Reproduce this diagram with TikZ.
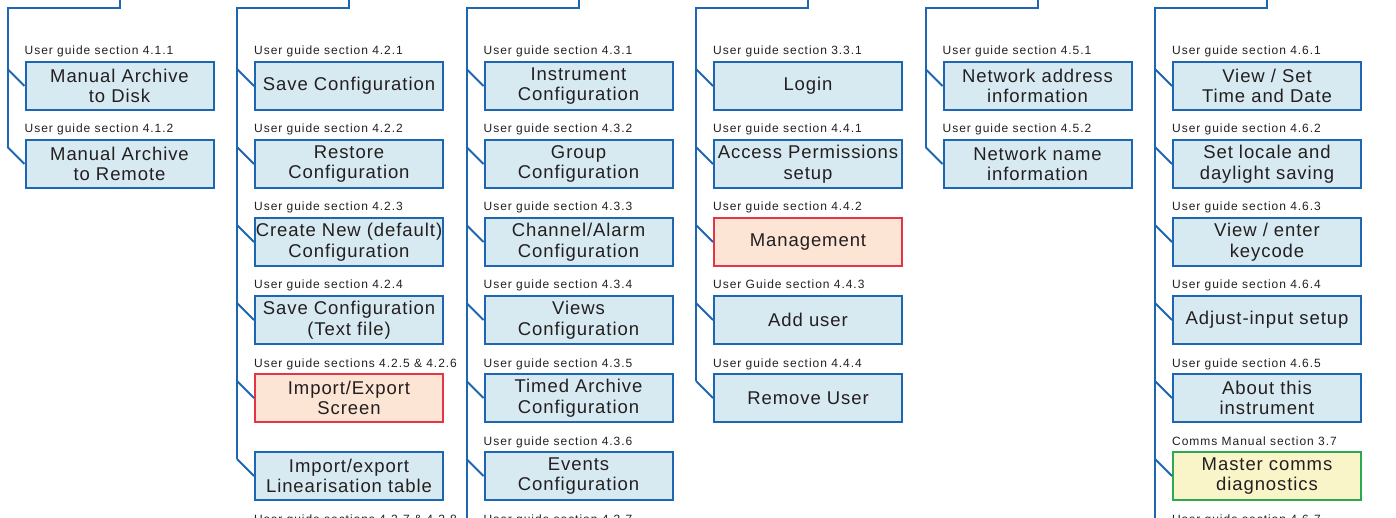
\documentclass[tikz,border=0pt]{standalone}
\usepackage{fontspec}
\setmainfont{Liberation Sans}[LetterSpace=8]
\newfontfamily\boxface{Liberation Sans}[LetterSpace=5]
\usetikzlibrary{calc}

\definecolor{lineblue}{RGB}{28,102,178}
\definecolor{boxblue}{RGB}{215,234,242}
\definecolor{edgered}{RGB}{228,52,70}
\definecolor{fillred}{RGB}{252,229,212}
\definecolor{edgegreen}{RGB}{44,170,80}
\definecolor{fillgreen}{RGB}{250,245,200}
\definecolor{ink}{RGB}{35,31,32}

\tikzset{
  wire/.style={draw=lineblue, line width=2pt},
  item/.style={draw=lineblue, fill=boxblue, line width=2pt,
    minimum width=188pt, minimum height=48pt, inner sep=0pt,
    align=center, text=ink, font=\boxface\fontsize{18.5}{20.5}\selectfont},
  warnitem/.style={item, draw=edgered, fill=fillred},
  commsitem/.style={item, draw=edgegreen, fill=fillgreen},
  lab/.style={inner sep=0pt, text=ink, font=\fontsize{12}{14}\selectfont},
}

% #1 name, #2 column, #3 row, #4 style, #5 reference line, #6 box text
\newcommand\menuitem[6]{%
  \node[#4, anchor=north west] (#1) at ({24.5+229.5*#2},{61+78*#3}) {#6};
  \node[lab, anchor=base west] (#1-lab) at ([yshift=6pt]#1.north west) {#5};
  \coordinate (#1-tap) at ([xshift=-17pt,yshift=17pt]#1.west);
  \draw[wire] (#1-tap) -- (#1.west);
}

\begin{document}
\begin{tikzpicture}[x=1pt, y=-1pt]
\useasboundingbox (0,0) rectangle (1396,518);

% Archive
\menuitem{m11}{0}{0}{item}{User guide section 4.1.1}{Manual Archive\\to Disk}
\menuitem{m12}{0}{1}{item}{User guide section 4.1.2}{Manual Archive\\to Remote}

% Configuration files
\menuitem{m21}{1}{0}{item}{User guide section 4.2.1}{Save Configuration}
\menuitem{m22}{1}{1}{item}{User guide section 4.2.2}{Restore\\Configuration}
\menuitem{m23}{1}{2}{item}{User guide section 4.2.3}{Create New (default)\\Configuration}
\menuitem{m24}{1}{3}{item}{User guide section 4.2.4}{Save Configuration\\(Text file)}
\menuitem{m25}{1}{4}{warnitem}{User guide sections 4.2.5 \& 4.2.6}{Import/Export\\Screen}
\menuitem{m26}{1}{5}{item}{}{Import/export\\Linearisation table}
\node[lab, anchor=base west] (m27-lab) at (254,523) {User guide sections 4.2.7 \& 4.2.8};

% Configuration
\menuitem{m31}{2}{0}{item}{User guide section 4.3.1}{Instrument\\Configuration}
\menuitem{m32}{2}{1}{item}{User guide section 4.3.2}{Group\\Configuration}
\menuitem{m33}{2}{2}{item}{User guide section 4.3.3}{Channel/Alarm\\Configuration}
\menuitem{m34}{2}{3}{item}{User guide section 4.3.4}{Views\\Configuration}
\menuitem{m35}{2}{4}{item}{User guide section 4.3.5}{Timed Archive\\Configuration}
\menuitem{m36}{2}{5}{item}{User guide section 4.3.6}{Events\\Configuration}
\node[lab, anchor=base west] (m37-lab) at (483.5,523) {User guide section 4.3.7};

% Security
\menuitem{m41}{3}{0}{item}{User guide section 3.3.1}{Login}
\menuitem{m42}{3}{1}{item}{User guide section 4.4.1}{Access Permissions\\setup}
\menuitem{m43}{3}{2}{warnitem}{User guide section 4.4.2}{Management}
\menuitem{m44}{3}{3}{item}{User Guide section 4.4.3}{Add user}
\menuitem{m45}{3}{4}{item}{User guide section 4.4.4}{Remove User}

% Network
\menuitem{m51}{4}{0}{item}{User guide section 4.5.1}{Network address\\information}
\menuitem{m52}{4}{1}{item}{User guide section 4.5.2}{Network name\\information}

% Utilities
\menuitem{m61}{5}{0}{item}{User guide section 4.6.1}{View / Set\\Time and Date}
\menuitem{m62}{5}{1}{item}{User guide section 4.6.2}{Set locale and\\daylight saving}
\menuitem{m63}{5}{2}{item}{User guide section 4.6.3}{View / enter\\keycode}
\menuitem{m64}{5}{3}{item}{User guide section 4.6.4}{Adjust-input setup}
\menuitem{m65}{5}{4}{item}{User guide section 4.6.5}{About this\\instrument}
\menuitem{m66}{5}{5}{commsitem}{Comms Manual section 3.7}{Master comms\\diagnostics}
\node[lab, anchor=base west] (m67-lab) at (1172,523) {User guide section 4.6.7};

% Trunk lines feeding each column
\draw[wire] ([yshift=70pt]m11.north) |- ([yshift=61pt]m11-tap) -- (m12-tap);
\draw[wire] ([yshift=70pt]m21.north) |- ([yshift=61pt]m21-tap) -- (m26-tap);
\draw[wire] ([yshift=70pt]m31.north) |- ([yshift=61pt]m31-tap) -- ([yshift=-90pt]m36-tap);
\draw[wire] ([yshift=70pt]m41.north) |- ([yshift=61pt]m41-tap) -- (m45-tap);
\draw[wire] ([yshift=70pt]m51.north) |- ([yshift=61pt]m51-tap) -- (m52-tap);
\draw[wire] ([yshift=70pt]m61.north) |- ([yshift=61pt]m61-tap) -- ([yshift=-90pt]m66-tap);
\end{tikzpicture}
\end{document}
